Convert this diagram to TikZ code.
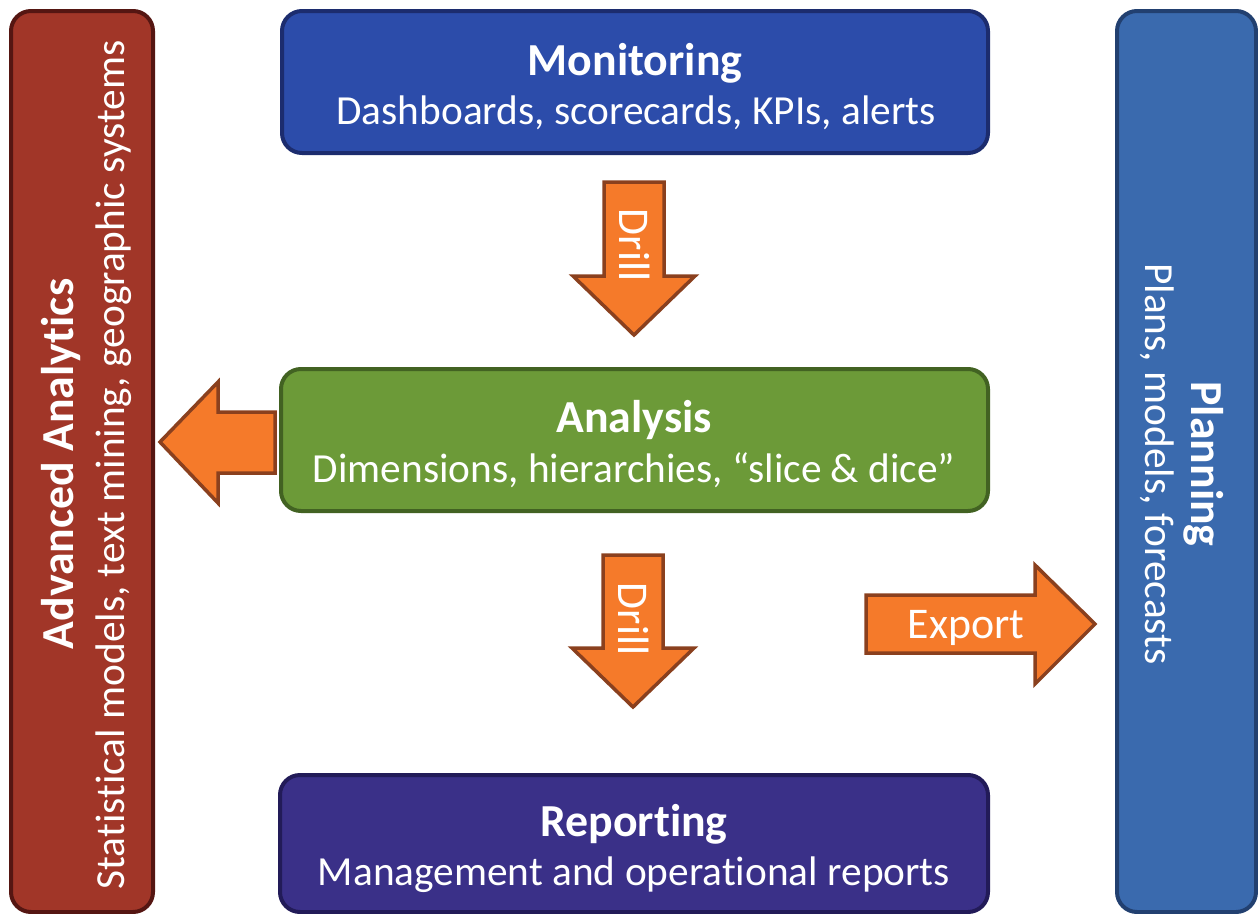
\documentclass[tikz,border=0pt]{standalone}
\usepackage{fontspec}
\setmainfont{Carlito}[RawFeature={-liga;-clig;-dlig}]
\definecolor{redfill}{RGB}{161,54,40}
\definecolor{redline}{RGB}{85,22,18}
\definecolor{monfill}{RGB}{44,76,170}
\definecolor{monline}{RGB}{28,44,110}
\definecolor{anafill}{RGB}{108,154,56}
\definecolor{analine}{RGB}{66,98,34}
\definecolor{repfill}{RGB}{58,48,136}
\definecolor{repline}{RGB}{34,27,88}
\definecolor{planfill}{RGB}{58,106,174}
\definecolor{planline}{RGB}{34,64,112}
\definecolor{arrfill}{RGB}{245,122,42}
\definecolor{arrline}{RGB}{138,64,30}
\tikzset{
  panel/.style={draw=#1, line width=4bp, rounded corners=20bp},
  blockarrow/.style={fill=arrfill, draw=arrline, line width=3.5bp, line join=miter},
  titletext/.style={text=white, font=\bfseries\fontsize{46}{50}\selectfont, inner sep=0pt},
  subtext/.style={text=white, font=\fontsize{41.5}{46}\selectfont, inner sep=0pt},
  arrowtext/.style={text=white, font=\fontsize{44}{48}\selectfont, inner sep=0pt}
}
\begin{document}
\begin{tikzpicture}[x=1bp, y=-1bp]
\useasboundingbox (0,0) rectangle (1258,914);

% side panels
\draw[panel=redline, fill=redfill] (11,11) rectangle (153,912);
\draw[panel=planline, fill=planfill] (1117,11) rectangle (1256,912);

% central panels
\draw[panel=monline, fill=monfill] (282,11) rectangle (988,153);
\draw[panel=analine, fill=anafill] (281,369) rectangle (988,511);
\draw[panel=repline, fill=repfill] (280,775) rectangle (988,912);

% panel texts
\node[titletext, anchor=base] (montitle) at (635,75) {Monitoring};
\node[subtext, anchor=base] (monsub) at (636,124) {Dashboards, scorecards, KPIs, alerts};
\node[titletext, anchor=base] (anatitle) at (634,432) {Analysis};
\node[subtext, anchor=base] (anasub) at (634,482) {Dimensions, hierarchies, “slice \& dice”};
\node[titletext, anchor=base] (reptitle) at (634,836) {Reporting};
\node[subtext, anchor=base] (repsub) at (634,885) {Management and operational reports};

\node[titletext, anchor=base, rotate=90] (advtitle) at (73,464) {Advanced Analytics};
\node[subtext, anchor=base, rotate=90] (advsub) at (124,465) {Statistical models, text mining, geographic systems};
\node[titletext, anchor=base, rotate=-90] (plantitle) at (1191,464) {Planning};
\node[subtext, anchor=base, rotate=-90] (plansub) at (1145,464) {Plans, models, forecasts};

% drill arrow below monitoring
\draw[blockarrow] (604,182) -- (664,182) -- (664,276) -- (695,276) -- (634,335)
  -- (573,276) -- (604,276) -- cycle;
\node[arrowtext, anchor=base, rotate=-90] (drillone) at (619,245) {Drill};

% drill arrow below analysis
\draw[blockarrow] (603,555) -- (663,555) -- (663,648) -- (694,648) -- (633,707)
  -- (572,648) -- (603,648) -- cycle;
\node[arrowtext, anchor=base, rotate=-90] (drilltwo) at (618,619) {Drill};

% arrow towards advanced analytics
\draw[blockarrow] (275,412) -- (275,473) -- (218,473) -- (218,503) -- (160,442)
  -- (218,382) -- (218,412) -- cycle;

% export arrow
\draw[blockarrow] (866,595) -- (1035,595) -- (1035,565) -- (1095,624) -- (1035,684)
  -- (1035,653) -- (866,653) -- cycle;
\node[arrowtext, anchor=base] (export) at (966,638) {Export};
\end{tikzpicture}
\end{document}
